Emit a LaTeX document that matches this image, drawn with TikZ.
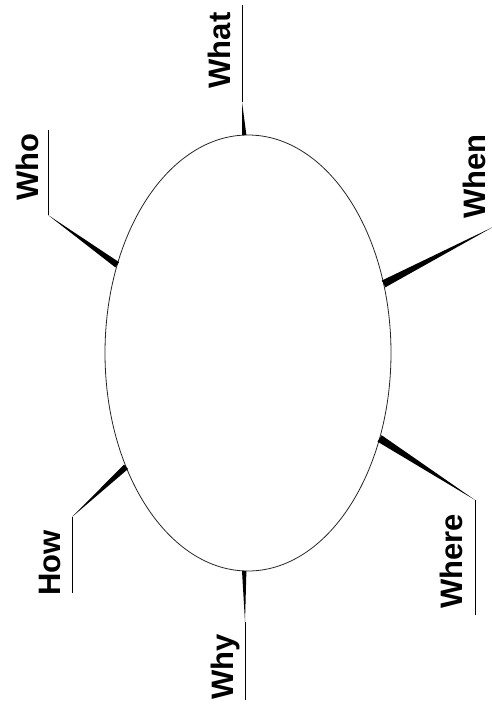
\documentclass[tikz,border=0pt]{standalone}
\usepackage{fontspec}
\setmainfont{Liberation Sans}
\usetikzlibrary{calc,shapes.geometric}
\tikzset{
  word/.style={font=\fontsize{31}{31}\selectfont\bfseries, rotate=90, anchor=base, inner sep=0pt},
  rule/.style={draw=black, line width=0.7pt},
  oval/.style={draw=black!85, line width=0.8pt, ellipse, inner sep=0pt, outer sep=0pt,
               minimum width=286pt, minimum height=436pt},
}
\newcommand\spokewedge[3]{%
  \fill[black] ($(#1)!#3!90:(#2)$) -- ($(#1)!#3!-90:(#2)$) -- (#2) -- cycle;}
\begin{document}
\begin{tikzpicture}[x=1pt,y=-1pt]
\useasboundingbox (0,0) rectangle (492,705);
\clip (0,0) rectangle (492,705);
\fill[white] (0,0) rectangle (492,705);
\node[oval] (ell) at (248,353) {};
% spoke end points
\coordinate (bWhat)  at (ell.91.3);
\coordinate (bWho)   at (ell.146.5);
\coordinate (bWhen)  at (ell.27.2);
\coordinate (bWhere) at (ell.-33.2);
\coordinate (bWhy)   at (ell.269.2);
\coordinate (bHow)   at (ell.223.3);
\coordinate (cWhat)  at (242,102);
\coordinate (cWho)   at (48,215);
\coordinate (cWhen)  at (493,227);
\coordinate (cWhere) at (475,500);
\coordinate (cWhy)   at (245,622);
\coordinate (cHow)   at (72,517);
\coordinate (eWhat)  at (242,5);
\coordinate (eWho)   at (48,130);
\coordinate (eWhere) at (475,615);
\coordinate (eWhy)   at (245,700);
\coordinate (eHow)   at (72,593);
% wedges
\spokewedge{bWhat}{cWhat}{2.2pt}
\spokewedge{bWho}{cWho}{3.2pt}
\spokewedge{bWhen}{cWhen}{3.8pt}
\spokewedge{bWhere}{cWhere}{3.8pt}
\spokewedge{bWhy}{cWhy}{2.2pt}
\spokewedge{bHow}{cHow}{3pt}
% rules
\draw[rule] (cWhat) -- (eWhat);
\draw[rule] (cWho) -- (eWho);
\draw[rule] (cWhere) -- (eWhere);
\draw[rule] (cWhy) -- (eWhy);
\draw[rule] (cHow) -- (eHow);
% words
\node[word] (tWhat)  at (230,50.5) {What};
\node[word] (tWho)   at (38,167) {Who};
\node[word] (tWhen)  at (485,176.5) {When};
\node[word] (tWhere) at (462,561.5) {Where};
\node[word] (tWhy)   at (233,667) {Why};
\node[word] (tHow)   at (60,563) {How};
\end{tikzpicture}
\end{document}
